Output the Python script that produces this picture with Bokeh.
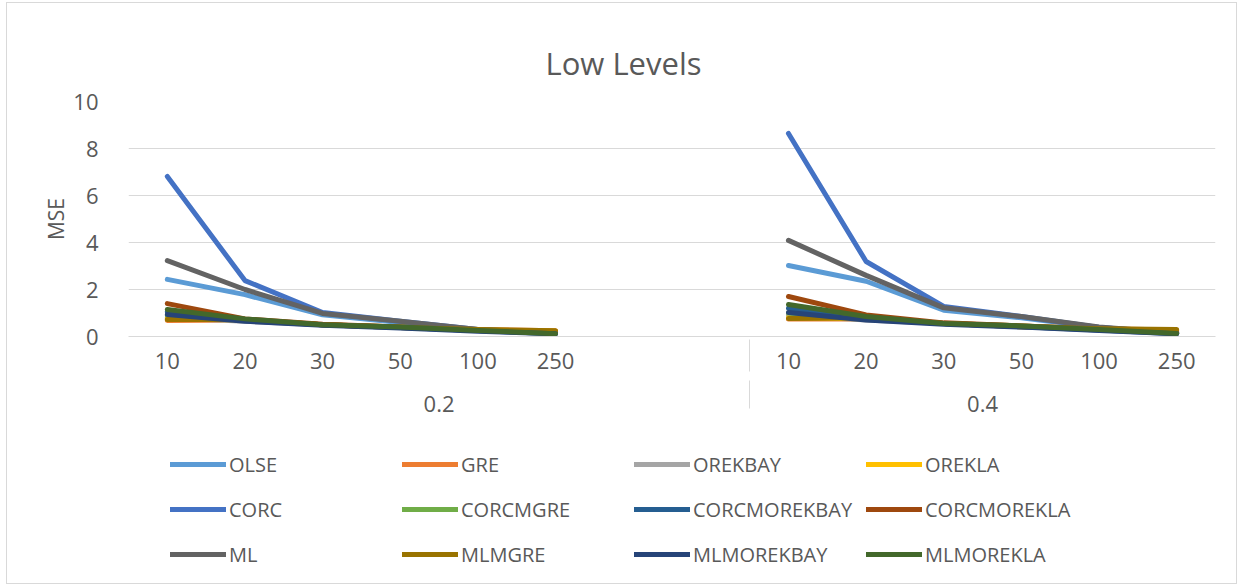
import math
from bokeh.plotting import figure
from bokeh.layouts import column
from bokeh.models import (FactorRange, FixedTicker, Legend, LegendItem,
                          CategoricalAxis)
from bokeh.embed import file_html
from bokeh.resources import INLINE

# ---------------- data ----------------
groups = ["0.2", "0.4"]
sizes = ["10", "20", "30", "50", "100", "250"]
blank_slots = [" ", "  "]   # two empty category slots after the first group (as in the source)

series_names = ["OLSE", "GRE", "OREKBAY", "OREKLA",
                "CORC", "CORCMGRE", "CORCMOREKBAY", "CORCMOREKLA",
                "ML", "MLMGRE", "MLMOREKBAY", "MLMOREKLA"]

olse_02 = [2.43, 1.78, 0.92, 0.60, 0.28, 0.14]
olse_04 = [3.02, 2.35, 1.12, 0.80, 0.38, 0.15]
gre_02 = [0.68, 0.70, 0.50, 0.40, 0.30, 0.25]
gre_04 = [0.75, 0.75, 0.55, 0.45, 0.33, 0.28]
orekbay_02 = [0.80, 0.65, 0.50, 0.38, 0.25, 0.15]
orekbay_04 = [0.90, 0.70, 0.55, 0.42, 0.30, 0.15]
orekla_02 = [0.75, 0.70, 0.50, 0.38, 0.28, 0.22]
orekla_04 = [0.80, 0.75, 0.55, 0.42, 0.32, 0.25]
corc_02 = [6.81, 2.38, 1.02, 0.65, 0.30, 0.14]
corc_04 = [8.64, 3.19, 1.28, 0.85, 0.38, 0.15]
corcmgre_02 = [0.90, 0.72, 0.50, 0.40, 0.28, 0.15]
corcmgre_04 = [1.00, 0.80, 0.55, 0.45, 0.32, 0.15]
corcmorekbay_02 = [1.05, 0.68, 0.50, 0.38, 0.25, 0.12]
corcmorekbay_04 = [1.20, 0.75, 0.55, 0.42, 0.28, 0.12]
corcmorekla_02 = [1.40, 0.75, 0.52, 0.40, 0.28, 0.18]
corcmorekla_04 = [1.70, 0.92, 0.58, 0.45, 0.32, 0.20]
ml_02 = [3.23, 2.00, 0.98, 0.65, 0.30, 0.14]
ml_04 = [4.09, 2.60, 1.22, 0.85, 0.40, 0.15]
mlmgre_02 = [0.72, 0.72, 0.50, 0.38, 0.30, 0.25]
mlmgre_04 = [0.77, 0.80, 0.55, 0.42, 0.33, 0.30]
mlmorekbay_02 = [0.94, 0.65, 0.48, 0.36, 0.22, 0.12]
mlmorekbay_04 = [1.02, 0.70, 0.52, 0.40, 0.25, 0.12]
mlmorekla_02 = [1.15, 0.75, 0.50, 0.40, 0.26, 0.12]
mlmorekla_04 = [1.36, 0.85, 0.55, 0.45, 0.30, 0.13]

series_02 = [olse_02, gre_02, orekbay_02, orekla_02, corc_02, corcmgre_02,
             corcmorekbay_02, corcmorekla_02, ml_02, mlmgre_02, mlmorekbay_02, mlmorekla_02]
series_04 = [olse_04, gre_04, orekbay_04, orekla_04, corc_04, corcmgre_04,
             corcmorekbay_04, corcmorekla_04, ml_04, mlmgre_04, mlmorekbay_04, mlmorekla_04]

colors = ["#5B9BD5", "#ED7D31", "#A5A5A5", "#FFC000",
          "#4472C4", "#70AD47", "#255E91", "#9E480E",
          "#636363", "#997300", "#264478", "#43682B"]

y_ticks = [0, 2, 4, 6, 8, 10]

# ---------------- main figure ----------------
group1 = [(groups[0], s) for s in sizes] + [(groups[0], b) for b in blank_slots]
group2 = [(groups[1], s) for s in sizes]
factors = group1 + group2
x_range = FactorRange(*factors, factor_padding=0, group_padding=0,
                      subgroup_padding=0, range_padding=0)

FONT = "Open Sans"
TXT = "#595959"
GRID = "#D9D9D9"

p = figure(width=1229, height=440, x_range=x_range, y_range=(0, 10),
           output_backend="svg", toolbar_location=None,
           min_border_left=121, min_border_right=21,
           min_border_top=98, min_border_bottom=107)

p.title.text = "Low Levels"
p.title.text_font = FONT
p.title.text_font_size = "31px"
p.title.text_font_style = "normal"
p.title.text_color = TXT
p.title.align = "left"
p.title.offset = 417
p.title.vertical_align = "top"
p.title.standoff = 32

p.outline_line_color = None
p.xgrid.grid_line_color = None
p.ygrid.grid_line_color = GRID
p.ygrid.grid_line_width = 1

p.yaxis.ticker = FixedTicker(ticks=y_ticks)
p.yaxis.axis_line_color = None
p.yaxis.major_tick_line_color = None
p.yaxis.minor_tick_line_color = None
p.yaxis.major_label_text_font = FONT
p.yaxis.major_label_text_font_size = "22px"
p.yaxis.major_label_text_color = TXT
p.yaxis.major_label_standoff = 24
p.yaxis.axis_label = "MSE"
p.yaxis.axis_label_text_font = FONT
p.yaxis.axis_label_text_font_size = "21px"
p.yaxis.axis_label_text_font_style = "normal"
p.yaxis.axis_label_text_color = TXT
p.yaxis.axis_label_standoff = 0

# inner level: sample sizes (group text suppressed here, drawn by the second axis)
xa = p.xaxis[0]
xa.axis_line_color = GRID
xa.major_tick_line_color = None
xa.major_tick_out = 0
xa.minor_tick_line_color = None
xa.major_label_text_font = FONT
xa.major_label_text_font_size = "22px"
xa.major_label_text_color = TXT
xa.major_label_standoff = 8
xa.group_text_font_size = "0px"
xa.group_text_color = None
xa.separator_line_color = GRID
xa.separator_line_width = 1

# outer level: group labels (same factors, inner labels suppressed)
p.extra_x_ranges = {"outer": FactorRange(*factors, factor_padding=0, group_padding=0,
                                         subgroup_padding=0, range_padding=0)}
ga = CategoricalAxis(x_range_name="outer")
ga.axis_line_color = None
ga.major_tick_line_color = None
ga.major_tick_out = 0
ga.minor_tick_line_color = None
ga.major_label_text_font_size = "0px"
ga.major_label_text_color = None
ga.major_label_standoff = 18
ga.group_text_font = FONT
ga.group_text_font_size = "22px"
ga.group_text_font_style = "normal"
ga.group_text_color = TXT
ga.separator_line_color = GRID
ga.separator_line_width = 1
p.add_layout(ga, "below")

for name, c, a, b in zip(series_names, colors, series_02, series_04):
    ys = list(a) + [math.nan] * len(blank_slots) + list(b)
    p.line(x=factors, y=ys, line_color=c, line_width=5,
           line_cap="round", line_join="round")

# ---------------- legend strip (4 columns x 3 rows, row-major order) ----------------
lg = figure(width=1229, height=140, x_range=(0, 1), y_range=(0, 1),
            output_backend="svg", toolbar_location=None,
            x_axis_location=None, y_axis_location=None,
            min_border=0)
lg.outline_line_color = None
lg.xgrid.grid_line_color = None
lg.ygrid.grid_line_color = None

n_cols = 4
col_pitch = 232
for col in range(n_cols):
    items = []
    for idx in range(col, len(series_names), n_cols):
        r = lg.line(x=[0], y=[math.nan], line_color=colors[idx], line_width=5,
                    line_cap="round")
        items.append(LegendItem(label=series_names[idx], renderers=[r]))
    legend = Legend(items=items, location=(42 + col * col_pitch, 11),
                    label_text_font=FONT, label_text_font_size="20px",
                    label_text_color=TXT, glyph_width=56, glyph_height=36,
                    label_height=36, label_standoff=3, spacing=9,
                    padding=0, margin=0, border_line_color=None,
                    background_fill_alpha=0)
    lg.add_layout(legend)

layout = column(p, lg, spacing=0)
layout.styles = {"margin-left": "7px", "margin-top": "3px",
                 "outline": "1px solid #D9D9D9"}

open("out.html", "w").write(file_html(layout, INLINE))
